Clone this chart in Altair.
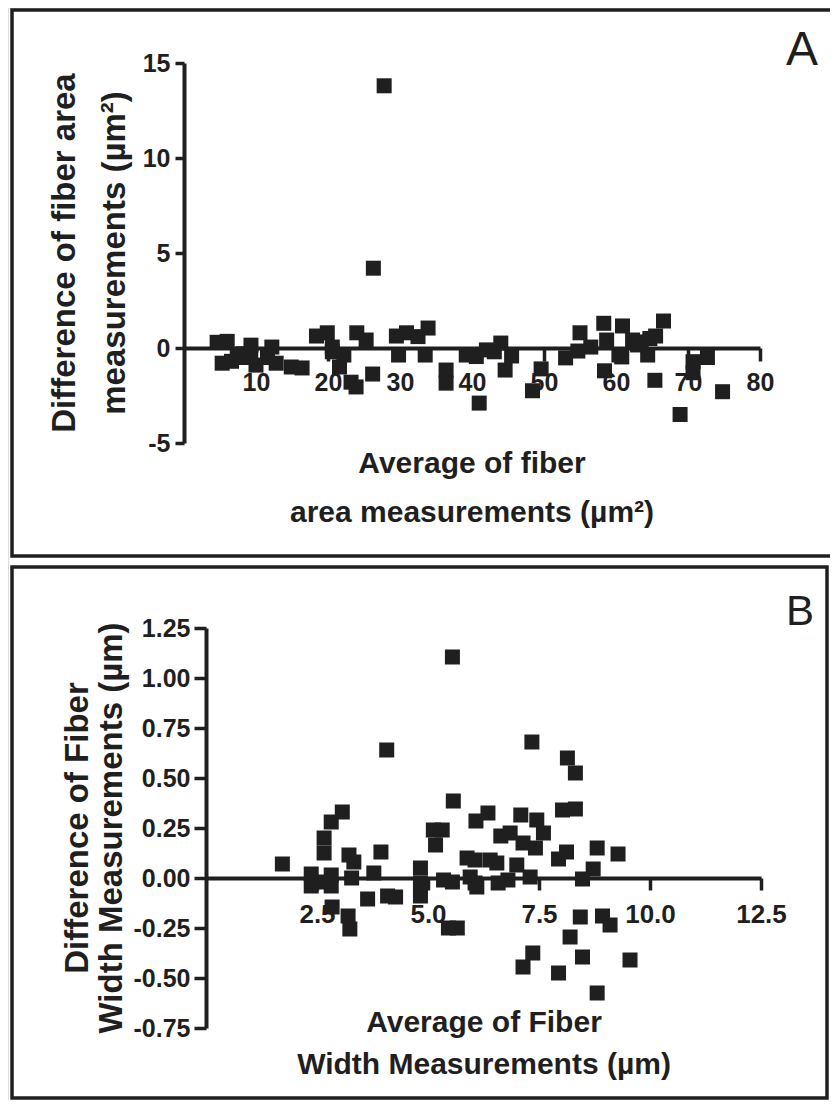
import altair as alt
import pandas as pd

# ---------------- Panel A data ----------------
a_x = [4.6, 6.0, 5.3, 6.6, 7.4, 8.2, 9.0, 9.3, 10.0, 11.6,
       12.2, 12.8, 14.9, 16.4, 18.4, 19.9, 20.6, 20.6, 21.6, 22.2,
       23.2, 23.9, 24.0, 25.3, 26.2, 26.3, 27.8, 29.5, 29.8, 30.9,
       32.5, 33.5, 33.9, 36.4, 36.4, 39.2, 40.6, 41.0, 42.0, 43.1,
       44.0, 44.6, 45.5, 48.4, 49.6, 53.0, 54.7, 55.0, 56.5, 58.3,
       58.4, 58.7, 60.4, 60.8, 60.9, 62.3, 63.0, 63.5, 64.4, 64.7,
       65.4, 65.5, 66.6, 68.9, 70.7, 70.7, 72.7, 74.8]
a_y = [0.3, 0.35, -0.8, -0.7, -0.5, -0.3, -0.5, 0.15, -0.9, -0.5,
       0.05, -0.8, -1.0, -1.05, 0.63, 0.8, 0.05, -0.2, -1.0, -0.37,
       -1.8, -2.05, 0.8, 0.42, -1.37, 4.2, 13.8, 0.63, -0.37, 0.8,
       0.6, -0.37, 1.05, -1.16, -1.85, -0.37, -0.45, -2.9, -0.1, -0.2,
       0.26, -1.16, -0.42, -2.25, -1.1, -0.52, -0.16, 0.8, 0.05, 1.3,
       -1.2, 0.42, -0.37, -0.47, 1.16, 0.42, 0.16, 0.32, -0.37, 0.5,
       -1.7, 0.63, 1.42, -3.5, -0.72, -1.3, -0.5, -2.3]
a_xticks = [10, 20, 30, 40, 50, 60, 70, 80]
a_yticks = [-5, 0, 5, 10, 15]
a_xtitle = ["Average of fiber", "area measurements (\u00b5m\u00b2)"]
a_ytitle = ["Difference of fiber area", "measurements (\u00b5m\u00b2)"]

# ---------------- Panel B data ----------------
b_x = [1.72, 2.37, 2.55, 2.82, 2.37, 2.82, 2.66, 2.66, 2.82, 3.07,
       2.84, 3.20, 3.24, 3.28, 3.22, 3.33, 3.64, 3.78, 3.94, 4.09,
       4.27, 4.07, 4.83, 4.83, 4.83, 5.12, 5.32, 5.17, 5.57, 5.35,
       5.55, 5.46, 5.66, 5.88, 6.08, 5.95, 6.10, 6.35, 5.55, 7.34,
       8.14, 8.32, 8.03, 8.32, 8.81, 9.28, 7.94, 8.12, 8.48, 8.72,
       8.43, 8.93, 9.10, 8.20, 8.48, 9.55, 7.36, 7.14, 7.94, 8.81,
       7.09, 7.45, 7.60, 6.64, 6.85, 7.14, 7.42, 6.06, 6.06, 6.40,
       6.55, 6.58, 6.80, 7.00, 7.30]
b_y = [0.07, 0.02, -0.02, 0.015, -0.04, -0.04, 0.20, 0.125, 0.28, 0.33,
       -0.145, -0.19, -0.255, 0.0, 0.115, 0.08, -0.105, 0.025, 0.13, -0.09,
       -0.095, 0.64, 0.05, -0.025, -0.09, 0.24, 0.24, 0.165, 0.385, -0.01,
       -0.02, -0.25, -0.25, 0.10, 0.285, 0.005, -0.045, 0.325, 1.105, 0.68,
       0.60, 0.525, 0.34, 0.345, 0.15, 0.12, 0.095, 0.13, -0.005, 0.045,
       -0.195, -0.19, -0.235, -0.295, -0.395, -0.41, -0.375, -0.445, -0.475, -0.575,
       0.315, 0.29, 0.225, 0.21, 0.225, 0.175, 0.15, 0.09, -0.025, 0.09,
       0.075, -0.025, -0.01, 0.065, 0.005]
b_xticks = [2.5, 5.0, 7.5, 10.0, 12.5]
b_yticks = [-0.75, -0.5, -0.25, 0.0, 0.25, 0.5, 0.75, 1.0, 1.25]
b_xtitle = ["Average of Fiber", "Width Measurements (\u00b5m)"]
b_ytitle = ["Difference of Fiber", "Width Measurements (\u00b5m)"]

INK = "#1f1f1f"
FONT = "Liberation Sans"
W, H = 822, 1092
ONE = pd.DataFrame({"k": [0]})


def txt(s, x, y, size, angle=0, weight="bold"):
    return alt.Chart(ONE).mark_text(
        text=s, font=FONT, fontSize=size, fontWeight=weight, color=INK,
        align="center", baseline="alphabetic", angle=angle,
    ).encode(x=alt.value(x), y=alt.value(y))


def box(x1, x2, y1, y2):
    return alt.Chart(ONE).mark_rect(
        filled=False, stroke=INK, strokeWidth=3.5
    ).encode(x=alt.value(x1), x2=alt.value(x2), y=alt.value(y1), y2=alt.value(y2))


def points(xs, ys, fx, fy, xdom, ydom, xrange, yrange, xticks, yticks,
           xlab, ylab, x_off, y_off, xtick, xpad, ytick, ypad,
           xlab_size, ylab_size):
    df = pd.DataFrame({fx: xs, fy: ys})
    xaxis = alt.Axis(
        values=xticks, labelExpr=xlab, orient="bottom", offset=x_off,
        grid=False, domainColor=INK, domainWidth=4, tickColor=INK,
        tickWidth=3.5, tickSize=xtick, labelPadding=xpad,
        labelFont=FONT, labelFontWeight="bold", labelFontSize=xlab_size,
        labelColor=INK, labelOverlap=False, labelFlush=False, title=None,
    )
    yaxis = alt.Axis(
        values=yticks, labelExpr=ylab, orient="left", offset=y_off,
        grid=False, domainColor=INK, domainWidth=4, tickColor=INK,
        tickWidth=3.5, tickSize=ytick, labelPadding=ypad,
        labelFont=FONT, labelFontWeight="bold", labelFontSize=ylab_size,
        labelColor=INK, labelOverlap=False, labelFlush=False, title=None,
    )
    return alt.Chart(df).mark_square(size=225, color=INK, opacity=1).encode(
        x=alt.X(f"{fx}:Q", scale=alt.Scale(domain=xdom, range=xrange, nice=False, zero=False), axis=xaxis),
        y=alt.Y(f"{fy}:Q", scale=alt.Scale(domain=ydom, range=yrange, nice=False, zero=False), axis=yaxis),
    )


neg = "\u2212"

# Panel A: plot area x 176..752, y 55..435 (zero line at 340)
pts_a = points(
    a_x, a_y, "ax", "ay", [0, 80], [-5, 15], [176, 752], [435, 55],
    a_xticks, a_yticks, "datum.value + ''", "datum.value + ''",
    -(H - 340), -176, 13, 9, 9, 5, 25, 25,
)
# Panel B: plot area x 198..753, y 620..1020 (zero line at 870)
pts_b = points(
    b_x, b_y, "bx", "by", [0, 12.5], [-0.75, 1.25], [198, 753], [1020, 620],
    b_xticks, b_yticks, "format(datum.value, '.1f')",
    "replace(format(datum.value, '.2f'), '" + neg + "', '-')",
    -(H - 870), -198, 12, 11, 12, 4, 26, 25,
)

decor = [
    box(4, 830, 2, 548),
    box(4, 819, 559, 1090),
    txt(a_ytitle[0], 67, 245, 33, 270),
    txt(a_ytitle[1], 117, 245, 33, 270),
    txt(a_xtitle[0], 464, 465, 30),
    txt(a_xtitle[1], 464, 514, 30),
    txt("A", 794, 57, 48, 0, "normal"),
    txt(b_ytitle[0], 80, 820, 33, 270),
    txt(b_ytitle[1], 114, 820, 33, 270),
    txt(b_xtitle[0], 476, 1024, 30),
    txt(b_xtitle[1], 476, 1066, 30),
    txt("B", 792, 617, 42, 0, "normal"),
]

chart = alt.layer(*decor, pts_a, pts_b).resolve_scale(
    x="independent", y="independent"
).resolve_axis(
    x="independent", y="independent"
).properties(
    width=W, height=H, padding=0,
    autosize=alt.AutoSizeParams(type="none"),
).configure_view(stroke=None).configure(background="white")

chart.save("out.html", embed_options={"renderer": "svg", "actions": False})
